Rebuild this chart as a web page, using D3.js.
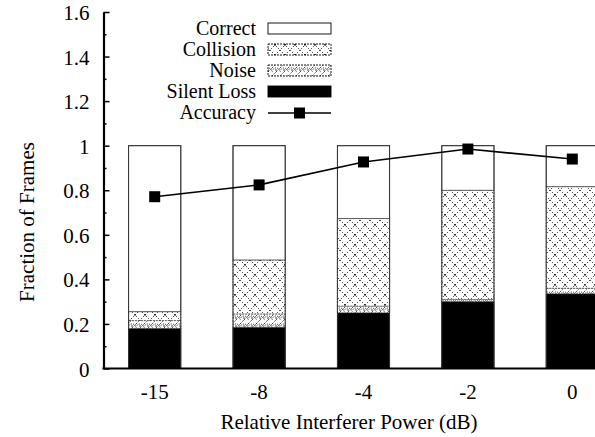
<!DOCTYPE html>
<html>
<head>
<meta charset="utf-8">
<script src="https://cdn.jsdelivr.net/npm/d3@7"></script>
<style>
  html, body { margin: 0; padding: 0; background: #fff; }
  svg { display: block; }
</style>
</head>
<body>
<svg id="chart" width="595" height="437"></svg>
<script>
// ---- data ----
const categories = ["-15", "-8", "-4", "-2", "0"];
const silentLoss = [0.18, 0.185, 0.25, 0.30, 0.335];
const noise      = [0.035, 0.06, 0.03, 0.01, 0.025];
const collision  = [0.04, 0.242, 0.393, 0.49, 0.456];
const correct    = [0.745, 0.513, 0.327, 0.20, 0.184];
const accuracy   = [0.771, 0.824, 0.927, 0.985, 0.940];
const yTicks = [0, 0.2, 0.4, 0.6, 0.8, 1, 1.2, 1.4, 1.6];
const yMinorTicks = [0.1, 0.3, 0.5, 0.7, 0.9, 1.1, 1.3, 1.5];
const seriesNames = ["Silent Loss", "Noise", "Collision", "Correct"];
const legendItems = ["Correct", "Collision", "Noise", "Silent Loss", "Accuracy"];

// ---- layout ----
const svg = d3.select("#chart");
const axisX = 103.5, y0px = 368.5, ytop = 12;
const FONT = "Liberation Serif";
const serif = (sel, size = 21) => sel.style("font-family", FONT).style("font-size", size + "px").style("fill", "#000");

const x = d3.scaleBand().domain(categories).range([102.5, 624.5])
  .paddingInner(0.5).paddingOuter(0.25);
const y = d3.scaleLinear().domain([0, 1.6]).range([y0px, ytop]);

// ---- patterns ----
const defs = svg.append("defs");
const pc = defs.append("pattern").attr("id", "pCollision")
  .attr("patternUnits", "userSpaceOnUse").attr("width", 10).attr("height", 10);
pc.append("rect").attr("width", 10).attr("height", 10).attr("fill", "#fff");
pc.append("path").attr("d", "M0,0L10,10M10,0L0,10")
  .attr("stroke", "#000").attr("stroke-width", 0.7).attr("stroke-dasharray", "1.4,1.4").attr("fill", "none");
pc.append("circle").attr("cx", 5).attr("cy", 5).attr("r", 0.8).attr("fill", "#000");

const pn = defs.append("pattern").attr("id", "pNoise")
  .attr("patternUnits", "userSpaceOnUse").attr("width", 8).attr("height", 8);
pn.append("rect").attr("width", 8).attr("height", 8).attr("fill", "#fff");
pn.append("path").attr("d", "M0,8A4,4 0 0 1 8,8M0,4L4,0M4,8L8,4")
  .attr("stroke", "#000").attr("stroke-width", 0.8).attr("stroke-dasharray", "1.2,1.2").attr("fill", "none");
pn.append("circle").attr("cx", 4).attr("cy", 6).attr("r", 0.7).attr("fill", "#000");

const fills = {
  "Silent Loss": "#000",
  "Noise": "url(#pNoise)",
  "Collision": "url(#pCollision)",
  "Correct": "#fff"
};
const seriesData = {
  "Silent Loss": silentLoss, "Noise": noise, "Collision": collision, "Correct": correct
};

// ---- stacked bars ----
const table = categories.map((c, i) => {
  const o = { cat: c };
  seriesNames.forEach(s => o[s] = seriesData[s][i]);
  return o;
});
const stack = d3.stack().keys(seriesNames)(table);

const gBars = svg.append("g");
stack.forEach(layer => {
  gBars.append("g").selectAll("rect").data(layer).join("rect")
    .attr("x", d => x(d.data.cat))
    .attr("width", x.bandwidth())
    .attr("y", d => y(d[1]))
    .attr("height", d => y(d[0]) - y(d[1]))
    .attr("fill", fills[layer.key])
    .attr("stroke", layer.key === "Silent Loss" ? "#000" : "#444")
    .attr("stroke-width", 0.8)
    .attr("stroke-dasharray", (layer.key === "Noise" || layer.key === "Collision") ? "2,1" : null);
});
gBars.append("g").selectAll("rect").data(table).join("rect")
  .attr("x", d => x(d.cat))
  .attr("width", x.bandwidth())
  .attr("y", d => y(seriesNames.reduce((a, s) => a + d[s], 0)))
  .attr("height", d => y(0) - y(seriesNames.reduce((a, s) => a + d[s], 0)))
  .attr("fill", "none").attr("stroke", "#333").attr("stroke-width", 1);

// ---- accuracy line ----
const cx = d => x(d) + x.bandwidth() / 2;
svg.append("path")
  .datum(categories.map((c, i) => [cx(c), y(accuracy[i])]))
  .attr("d", d3.line())
  .attr("fill", "none").attr("stroke", "#000").attr("stroke-width", 1.6);
svg.append("g").selectAll("rect").data(categories).join("rect")
  .attr("x", (c) => cx(c) - 5.5)
  .attr("y", (c, i) => y(accuracy[i]) - 5.5)
  .attr("width", 11).attr("height", 11).attr("fill", "#000");

// ---- axes ----
const yAxis = d3.axisLeft(y).tickValues(yTicks).tickFormat(d3.format("~g"))
  .tickSizeInner(-6).tickSizeOuter(0).tickPadding(14);
const gy = svg.append("g").attr("transform", `translate(${axisX},0)`).call(yAxis);
gy.select(".domain").attr("stroke-width", 2.2);
gy.selectAll(".tick line").attr("stroke-width", 1.5);
gy.selectAll("text").attr("dy", "0.36em").call(serif);

const yMinor = d3.axisLeft(y).tickValues(yMinorTicks).tickFormat("").tickSizeInner(-3).tickSizeOuter(0);
const gym = svg.append("g").attr("transform", `translate(${axisX},0)`).call(yMinor);
gym.select(".domain").remove();
gym.selectAll(".tick line").attr("stroke-width", 1.5);

const xAxis = d3.axisBottom(x).tickSize(0).tickPadding(16).tickSizeOuter(0);
const gx = svg.append("g").attr("transform", `translate(0,${y0px})`).call(xAxis);
gx.select(".domain").remove();
gx.selectAll("text").call(serif);
svg.append("line").attr("x1", axisX - 1).attr("x2", 600).attr("y1", y0px).attr("y2", y0px)
  .attr("stroke", "#000").attr("stroke-width", 2.2);

// ---- titles ----
svg.append("text").attr("x", 349).attr("y", 429).attr("text-anchor", "middle")
  .call(serif).text("Relative Interferer Power (dB)");
svg.append("text").attr("transform", "translate(34,222) rotate(-90)").attr("text-anchor", "middle")
  .call(serif).text("Fraction of Frames");

// ---- legend ----
const lg = svg.append("g");
const legendFill = { "Correct": "#fff", "Collision": "url(#pCollision)", "Noise": "url(#pNoise)", "Silent Loss": "#000" };
legendItems.forEach((name, i) => {
  const base = 35 + i * 21;
  lg.append("text").attr("x", 256).attr("y", base).attr("text-anchor", "end").call(serif, 20).text(name);
  if (name === "Accuracy") {
    lg.append("line").attr("x1", 268).attr("x2", 331).attr("y1", base - 6).attr("y2", base - 6)
      .attr("stroke", "#000").attr("stroke-width", 1.6);
    lg.append("rect").attr("x", 299.5 - 5.5).attr("y", base - 6 - 5.5).attr("width", 11).attr("height", 11).attr("fill", "#000");
  } else {
    lg.append("rect").attr("x", 268).attr("y", base - 12).attr("width", 63).attr("height", 11)
      .attr("fill", legendFill[name])
      .attr("stroke", "#000").attr("stroke-width", 0.9)
      .attr("stroke-dasharray", (name === "Noise" || name === "Collision") ? "2,1" : null);
  }
});
</script>
</body>
</html>
